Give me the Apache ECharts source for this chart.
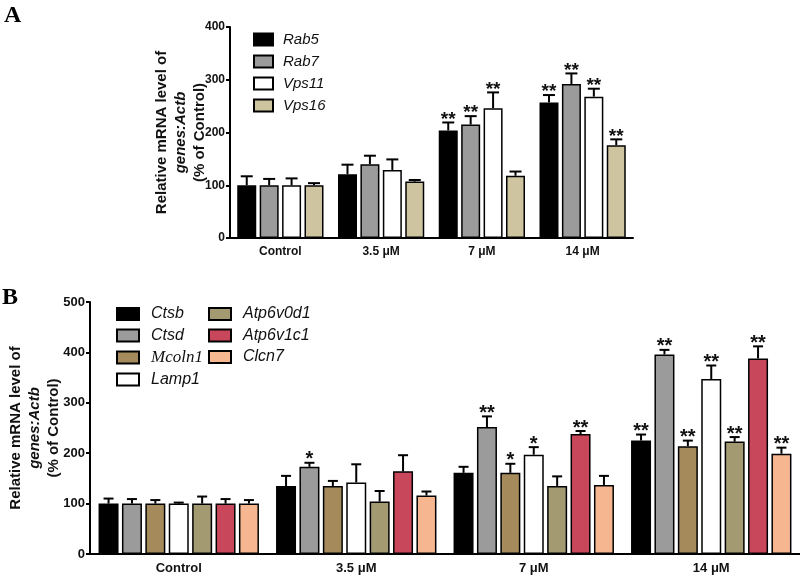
<!DOCTYPE html>
<html>
<head>
<meta charset="utf-8">
<script src="https://cdn.jsdelivr.net/npm/echarts@6/dist/echarts.min.js"></script>
<style>html,body{margin:0;padding:0;background:#fff}#c{width:800px;height:576px}</style>
</head>
<body>
<div id="c"></div>
<script>
// ---------- Data ----------
const catsA = ['Control', '3.5 μM', '7 μM', '14 μM'];
const genesA = ['Rab5', 'Rab7', 'Vps11', 'Vps16'];
const meanRab5 = [100, 121, 204, 257];
const meanRab7 = [100, 140, 215, 292];
const meanVps11 = [100, 129, 246, 268];
const meanVps16 = [100, 107, 118, 176];
const semRab5 = [17, 18, 15, 14];
const semRab7 = [12, 16, 16, 20];
const semVps11 = [13, 20, 30, 15];
const semVps16 = [4, 3, 8, 11];
const sigRab5 = ['', '', '**', '**'];
const sigRab7 = ['', '', '**', '**'];
const sigVps11 = ['', '', '**', '**'];
const sigVps16 = ['', '', '', '**'];
const yTicksA = [0, 100, 200, 300, 400];

const catsB = ['Control', '3.5 μM', '7 μM', '14 μM'];
const genesB = ['Ctsb', 'Ctsd', 'Mcoln1', 'Lamp1', 'Atp6v0d1', 'Atp6v1c1', 'Clcn7'];
const meanCtsb = [100, 135, 161, 225];
const meanCtsd = [100, 173, 252, 396];
const meanMcoln1 = [100, 135, 161, 214];
const meanLamp1 = [100, 142, 197, 347];
const meanAtp6v0d1 = [100, 104, 135, 223];
const meanAtp6v1c1 = [100, 164, 238, 388];
const meanClcn7 = [100, 116, 137, 199];
const semCtsb = [10, 20, 12, 12];
const semCtsd = [9, 8, 21, 9];
const semMcoln1 = [7, 10, 18, 11];
const semLamp1 = [2, 36, 15, 27];
const semAtp6v0d1 = [14, 21, 19, 9];
const semAtp6v1c1 = [9, 32, 6, 24];
const semClcn7 = [7, 8, 18, 12];
const sigCtsb = ['', '', '', '**'];
const sigCtsd = ['', '*', '**', '**'];
const sigMcoln1 = ['', '', '*', '**'];
const sigLamp1 = ['', '', '*', '**'];
const sigAtp6v0d1 = ['', '', '', '**'];
const sigAtp6v1c1 = ['', '', '**', '**'];
const sigClcn7 = ['', '', '', '**'];
const yTicksB = [0, 100, 200, 300, 400, 500];

// ---------- Styles ----------
const colorsA = ['#000000', '#9b9b9b', '#ffffff', '#cfc4a0'];
const colorsB = ['#000000', '#9b9b9b', '#a58b5c', '#ffffff', '#a39a72', '#c9475a', '#f5b690'];
const meansA = [meanRab5, meanRab7, meanVps11, meanVps16];
const semsA = [semRab5, semRab7, semVps11, semVps16];
const sigsA = [sigRab5, sigRab7, sigVps11, sigVps16];
const meansB = [meanCtsb, meanCtsd, meanMcoln1, meanLamp1, meanAtp6v0d1, meanAtp6v1c1, meanClcn7];
const semsB = [semCtsb, semCtsd, semMcoln1, semLamp1, semAtp6v0d1, semAtp6v1c1, semClcn7];
const sigsB = [sigCtsb, sigCtsd, sigMcoln1, sigLamp1, sigAtp6v0d1, sigAtp6v1c1, sigClcn7];

const SANS = '"Liberation Sans", Arial, sans-serif';
const SERIF = '"Liberation Serif", "Times New Roman", serif';

const bwA = 19, gapA = 0.18;
const bwB = 20, gapB = 0.17;

function errRender(offset, cap, sig, fs) {
  return function (params, api) {
    const x = api.value(0), m = api.value(1), e = api.value(2);
    const p0 = api.coord([x, m]);
    const p1 = api.coord([x, m + e]);
    const cx = p0[0] + offset;
    const children = [
      { type: 'line', shape: { x1: cx, y1: p0[1], x2: cx, y2: p1[1] }, style: { stroke: '#000', lineWidth: 2 } },
      { type: 'line', shape: { x1: cx - cap / 2, y1: p1[1], x2: cx + cap / 2, y2: p1[1] }, style: { stroke: '#000', lineWidth: 2 } }
    ];
    const s = sig[params.dataIndex];
    if (s) {
      children.push({ type: 'text', style: { text: s, x: cx, y: p1[1] - 3, align: 'center', verticalAlign: 'middle',
        font: 'bold ' + fs + 'px ' + SANS, fill: '#111' } });
    }
    return { type: 'group', children: children };
  };
}

const series = [];
genesA.forEach((g, i) => {
  series.push({ type: 'bar', name: g, xAxisIndex: 0, yAxisIndex: 0, data: meansA[i],
    barWidth: bwA, barGap: (gapA * 100) + '%',
    itemStyle: { color: colorsA[i], borderColor: '#000', borderWidth: 1.5 }, z: 2 });
});
genesA.forEach((g, i) => {
  const off = (i - (genesA.length - 1) / 2) * bwA * (1 + gapA);
  series.push({ type: 'custom', xAxisIndex: 0, yAxisIndex: 0, z: 3,
    data: meansA[i].map((v, k) => [k, v, semsA[i][k]]),
    renderItem: errRender(off, 12, sigsA[i], 19) });
});
genesB.forEach((g, i) => {
  series.push({ type: 'bar', name: g, xAxisIndex: 1, yAxisIndex: 1, data: meansB[i],
    barWidth: bwB, barGap: (gapB * 100) + '%',
    itemStyle: { color: colorsB[i], borderColor: '#000', borderWidth: 1.5 }, z: 2 });
});
genesB.forEach((g, i) => {
  const off = (i - (genesB.length - 1) / 2) * bwB * (1 + gapB);
  series.push({ type: 'custom', xAxisIndex: 1, yAxisIndex: 1, z: 3,
    data: meansB[i].map((v, k) => [k, v, semsB[i][k]]),
    renderItem: errRender(off, 10, sigsB[i], 20) });
});

function xAxisCfg(gi, cats, fs) {
  return {
    type: 'category', gridIndex: gi, data: cats, boundaryGap: true,
    axisLine: { lineStyle: { color: '#000', width: 2 } },
    axisTick: { alignWithLabel: true, length: 5, lineStyle: { color: '#000', width: 2 } },
    axisLabel: { color: '#111', fontWeight: 'bold', fontSize: fs, fontFamily: SANS, margin: 8 },
    splitLine: { show: false }
  };
}
function yAxisCfg(gi, ticks, fs, gap, tfs) {
  return {
    type: 'value', gridIndex: gi, min: ticks[0], max: ticks[ticks.length - 1], interval: ticks[1] - ticks[0],
    axisLine: { show: true, lineStyle: { color: '#000', width: 2 } },
    axisTick: { show: true, length: 4, lineStyle: { color: '#000', width: 2 } },
    axisLabel: { color: '#111', fontWeight: 'bold', fontSize: fs, fontFamily: SANS, margin: 5 },
    splitLine: { show: false },
    name: '{b|Relative mRNA level of}\n{i|genes:Actb}\n{b|(% of Control)}',
    nameLocation: 'middle', nameRotate: 90, nameGap: gap, nameMoveOverlap: false,
    nameTextStyle: {
      lineHeight: 19,
      rich: {
        b: { fontWeight: 'bold', fontSize: tfs, fontFamily: SANS, color: '#111', lineHeight: 19 },
        i: { fontWeight: 'bold', fontStyle: 'italic', fontSize: tfs, fontFamily: SANS, color: '#111', lineHeight: 19 }
      }
    }
  };
}

const option = {
  animation: false,
  backgroundColor: '#fff',
  grid: [
    { left: 230, right: 167, top: 27, bottom: 338, outerBoundsMode: 'none', containLabel: false },
    { left: 90, right: 0, top: 302, bottom: 22, outerBoundsMode: 'none', containLabel: false }
  ],
  xAxis: [xAxisCfg(0, catsA, 12), xAxisCfg(1, catsB, 13)],
  yAxis: [yAxisCfg(0, yTicksA, 12, 21, 15), yAxisCfg(1, yTicksB, 13, 27, 15)],
  legend: [
    { data: genesA, orient: 'vertical', left: 248, top: 27, itemWidth: 19, itemHeight: 12, itemGap: 7,
      icon: 'rect', selectedMode: false,
      textStyle: { fontStyle: 'italic', fontSize: 15, fontFamily: SANS, color: '#111', padding: [0, 0, 0, 5] } },
    { data: genesB.slice(0, 4), orient: 'vertical', left: 111, top: 301, itemWidth: 22, itemHeight: 12, itemGap: 5.5,
      icon: 'rect', selectedMode: false,
      formatter: n => n === 'Mcoln1' ? '{s|' + n + '}' : n,
      textStyle: { fontStyle: 'italic', fontSize: 16, fontFamily: SANS, color: '#111', padding: [0, 0, 0, 7],
        rich: { s: { fontFamily: SERIF, fontStyle: 'italic', fontSize: 17, color: '#111' } } } },
    { data: genesB.slice(4), orient: 'vertical', left: 203, top: 301, itemWidth: 22, itemHeight: 12, itemGap: 5.5,
      icon: 'rect', selectedMode: false,
      textStyle: { fontStyle: 'italic', fontSize: 16, fontFamily: SANS, color: '#111', padding: [0, 0, 0, 7] } }
  ],
  graphic: [
    { type: 'text', left: 4, top: 4, style: { text: 'A', font: 'bold 24px ' + SERIF, fill: '#000' } },
    { type: 'text', left: 2, top: 286, style: { text: 'B', font: 'bold 24px ' + SERIF, fill: '#000' } }
  ],
  series: series
};

const chart = echarts.init(document.getElementById('c'), null, { renderer: 'canvas' });
chart.setOption(option);
</script>
</body>
</html>
